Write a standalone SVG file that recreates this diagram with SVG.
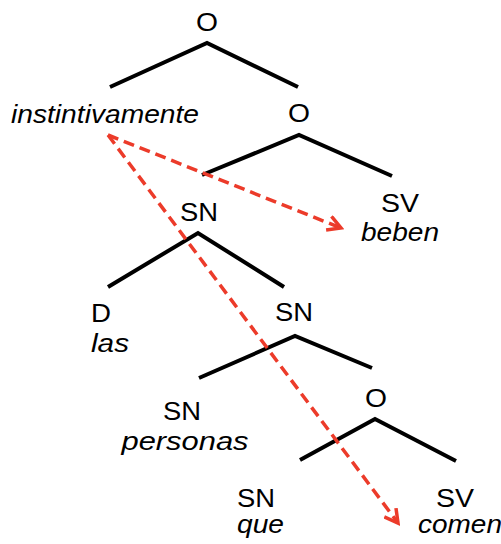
<svg xmlns="http://www.w3.org/2000/svg" width="501" height="544" viewBox="0 0 501 544">
<style>
text{font-family:"Liberation Sans",Arial,sans-serif;font-size:26px;fill:#000}
.i{font-style:italic}
.m{text-anchor:middle}
.br{fill:none;stroke:#000;stroke-width:4;stroke-linejoin:miter}
.ar{fill:none;stroke:#ec3b2a;stroke-width:3.5;stroke-dasharray:11 6}
</style>
<defs>
<marker id="ah" viewBox="0 0 12 12" refX="10" refY="6" markerWidth="5" markerHeight="5" orient="auto" markerUnits="strokeWidth">
<path d="M1,1 L10,6 L1,11" fill="none" stroke="#ec3b2a" stroke-width="2.4"/>
</marker>
</defs>
<g id="n-o1"><text class="m" x="207" y="31" textLength="22" lengthAdjust="spacingAndGlyphs">O</text><polyline class="br" points="110,87 207,43 298,87"/></g>
<g id="n-instintivamente"><text class="i" x="11" y="123" textLength="188" lengthAdjust="spacingAndGlyphs">instintivamente</text></g>
<g id="n-o2"><text class="m" x="299" y="122" textLength="22" lengthAdjust="spacingAndGlyphs">O</text><polyline class="br" points="202,175 299,135 392,176"/></g>
<g id="n-sn1"><text class="m" x="199" y="221" textLength="38" lengthAdjust="spacingAndGlyphs">SN</text><polyline class="br" points="108,287 198,233 284,287"/></g>
<g id="n-sv1"><text class="m" x="400" y="212" textLength="38" lengthAdjust="spacingAndGlyphs">SV</text><text class="i m" x="400" y="241" textLength="78" lengthAdjust="spacingAndGlyphs">beben</text></g>
<g id="n-d"><text x="91" y="322" textLength="20" lengthAdjust="spacingAndGlyphs">D</text><text class="i" x="91" y="352" textLength="38" lengthAdjust="spacingAndGlyphs">las</text></g>
<g id="n-sn2"><text class="m" x="294" y="321" textLength="38" lengthAdjust="spacingAndGlyphs">SN</text><polyline class="br" points="199,378 295,336 372,368"/></g>
<g id="n-sn3"><text class="m" x="182" y="420" textLength="38" lengthAdjust="spacingAndGlyphs">SN</text><text class="i m" x="185" y="450" textLength="127" lengthAdjust="spacingAndGlyphs">personas</text></g>
<g id="n-o3"><text class="m" x="376" y="407" textLength="22" lengthAdjust="spacingAndGlyphs">O</text><polyline class="br" points="300,460 375,419 456,461"/></g>
<g id="n-sn4"><text class="m" x="256" y="507" textLength="38" lengthAdjust="spacingAndGlyphs">SN</text><text class="i" x="237" y="533" textLength="47" lengthAdjust="spacingAndGlyphs">que</text></g>
<g id="n-sv2"><text class="m" x="455" y="507" textLength="38" lengthAdjust="spacingAndGlyphs">SV</text><text class="i" x="418" y="533" textLength="84" lengthAdjust="spacingAndGlyphs">comen</text></g>
<g id="connectors">
<line class="ar" x1="108" y1="135" x2="341" y2="228" marker-end="url(#ah)"/>
<line class="ar" x1="108" y1="135" x2="398" y2="523" marker-end="url(#ah)"/>
</g>
</svg>
